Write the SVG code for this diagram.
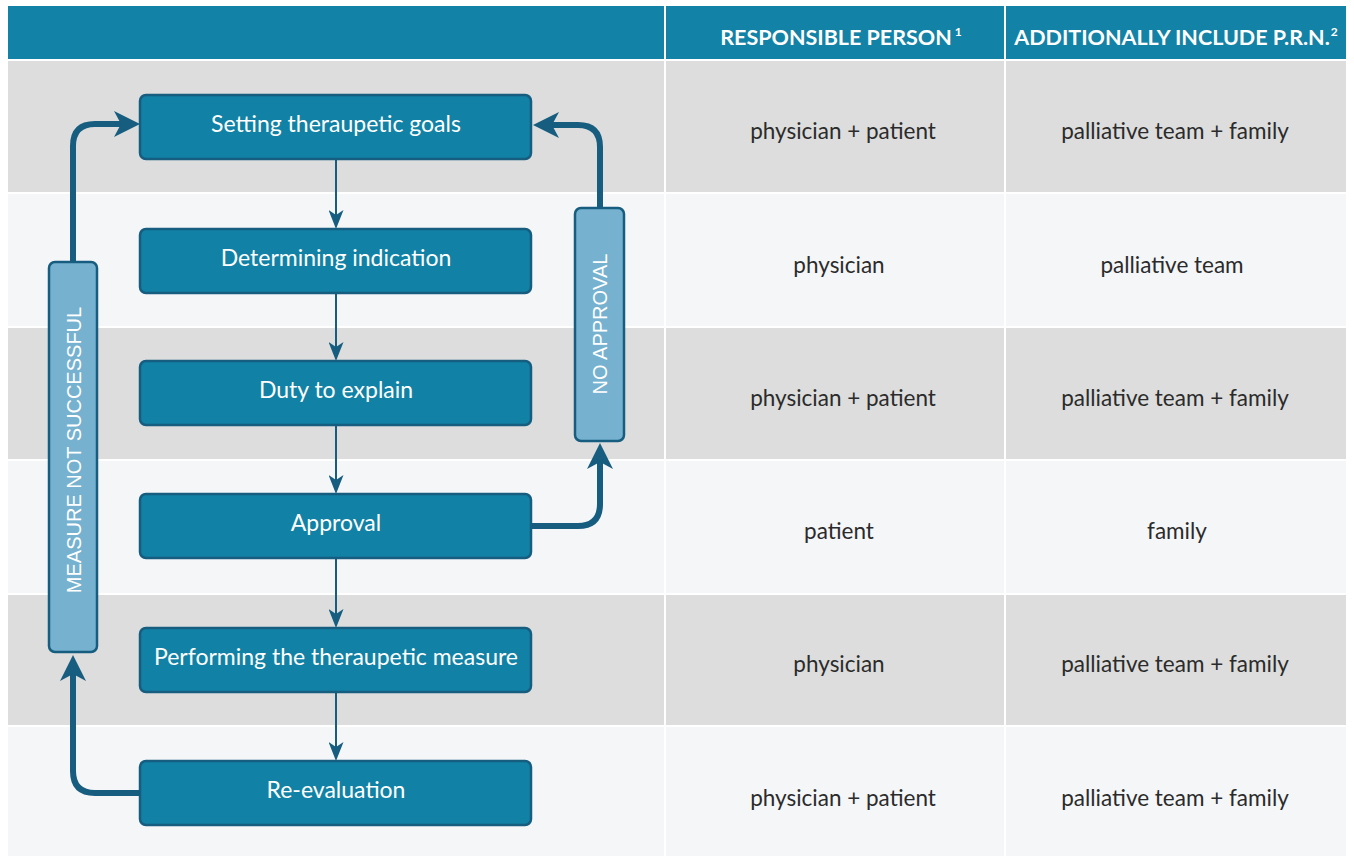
<svg xmlns="http://www.w3.org/2000/svg" width="1354" height="856" viewBox="0 0 1354 856">
<style>
.hdr{fill:#1282a6}
.g{fill:#dcdddc}
.l{fill:#f5f6f8}
.ht{font-family:Lato,"Liberation Sans",sans-serif;font-weight:bold;font-size:21.5px;fill:#ffffff;text-anchor:middle}
.sup{font-size:12px}
.ct{font-family:Lato,"Liberation Sans",sans-serif;font-size:22.5px;fill:#2b2b2b;text-anchor:middle}
.box{fill:#1182a5;stroke:#165d80;stroke-width:2.5}
.bt{font-family:Lato,"Liberation Sans",sans-serif;font-size:23px;fill:#ffffff;text-anchor:middle}
.side{fill:#76b2cf;stroke:#165d80;stroke-width:2.5}
.st{font-family:"Liberation Sans",Arial,sans-serif;font-size:20px;fill:#ffffff;text-anchor:middle}
.thin{fill:none;stroke:#165d80;stroke-width:2;marker-end:url(#ah)}
.thick{fill:none;stroke:#165d80;stroke-width:6;marker-end:url(#ahb)}
</style>
<defs>
<marker id="ah" viewBox="0 0 19 15" refX="5" refY="7.5" markerWidth="19" markerHeight="15" markerUnits="userSpaceOnUse" orient="auto"><path d="M0,0 L19,7.5 L0,15 L5,7.5 z" fill="#165d80"/></marker>
<marker id="ahb" viewBox="0 0 26 26" refX="7" refY="13" markerWidth="26" markerHeight="26" markerUnits="userSpaceOnUse" orient="auto"><path d="M0,0 L26,13 L0,26 L7,13 z" fill="#165d80"/></marker>
</defs>
<rect width="1354" height="856" fill="#ffffff"/>
<g id="table">
<rect class="hdr" x="8" y="6" width="656" height="53"/>
<rect class="hdr" x="666" y="6" width="338" height="53"/>
<rect class="hdr" x="1006" y="6" width="340" height="53"/>
<text class="ht" x="841" y="45">RESPONSIBLE PERSON<tspan class="sup" dx="3" dy="-9">1</tspan></text>
<text class="ht" x="1176" y="45">ADDITIONALLY INCLUDE P.R.N.<tspan class="sup" dx="1" dy="-9">2</tspan></text>
<rect class="g" x="8" y="61" width="656" height="131"/><rect class="g" x="666" y="61" width="338" height="131"/><rect class="g" x="1006" y="61" width="340" height="131"/>
<rect class="l" x="8" y="194" width="656" height="132"/><rect class="l" x="666" y="194" width="338" height="132"/><rect class="l" x="1006" y="194" width="340" height="132"/>
<rect class="g" x="8" y="328" width="656" height="131"/><rect class="g" x="666" y="328" width="338" height="131"/><rect class="g" x="1006" y="328" width="340" height="131"/>
<rect class="l" x="8" y="461" width="656" height="132"/><rect class="l" x="666" y="461" width="338" height="132"/><rect class="l" x="1006" y="461" width="340" height="132"/>
<rect class="g" x="8" y="595" width="656" height="130"/><rect class="g" x="666" y="595" width="338" height="130"/><rect class="g" x="1006" y="595" width="340" height="130"/>
<rect class="l" x="8" y="727" width="656" height="129"/><rect class="l" x="666" y="727" width="338" height="129"/><rect class="l" x="1006" y="727" width="340" height="129"/>
<text class="ct" x="843" y="139">physician + patient</text>
<text class="ct" x="1175" y="139">palliative team + family</text>
<text class="ct" x="839" y="273">physician</text>
<text class="ct" x="1172" y="273">palliative team</text>
<text class="ct" x="843" y="406">physician + patient</text>
<text class="ct" x="1175" y="406">palliative team + family</text>
<text class="ct" x="839" y="539">patient</text>
<text class="ct" x="1177" y="539">family</text>
<text class="ct" x="839" y="672">physician</text>
<text class="ct" x="1175" y="672">palliative team + family</text>
<text class="ct" x="843" y="806">physician + patient</text>
<text class="ct" x="1175" y="806">palliative team + family</text>
</g>
<g id="connectors">
<path class="thin" d="M336,159 V215"/>
<path class="thin" d="M336,293 V347"/>
<path class="thin" d="M336,425 V480"/>
<path class="thin" d="M336,558 V614"/>
<path class="thin" d="M336,692 V747"/>
<path class="thick" d="M73,262 V146 Q73,124 95,124 H121"/>
<path class="thick" d="M600,208 V147 Q600,125 578,125 H552"/>
<path class="thick" d="M531,526 H578 Q600,526 600,504 V462"/>
<path class="thick" d="M140,793 H95 Q73,793 73,771 V674"/>
</g>
<g id="n1"><rect class="box" x="140" y="95" width="391" height="64" rx="6"/><text class="bt" x="336" y="132">Setting theraupetic goals</text></g>
<g id="n2"><rect class="box" x="140" y="229" width="391" height="64" rx="6"/><text class="bt" x="336" y="266">Determining indication</text></g>
<g id="n3"><rect class="box" x="140" y="361" width="391" height="64" rx="6"/><text class="bt" x="336" y="398">Duty to explain</text></g>
<g id="n4"><rect class="box" x="140" y="494" width="391" height="64" rx="6"/><text class="bt" x="336" y="531">Approval</text></g>
<g id="n5"><rect class="box" x="140" y="628" width="391" height="64" rx="6"/><text class="bt" x="336" y="665">Performing the theraupetic measure</text></g>
<g id="n6"><rect class="box" x="140" y="761" width="391" height="64" rx="6"/><text class="bt" x="336" y="798">Re-evaluation</text></g>
<g id="s1"><rect class="side" x="49" y="262" width="48" height="390" rx="6"/><text class="st" transform="translate(81,450) rotate(-90)">MEASURE NOT SUCCESSFUL</text></g>
<g id="s2"><rect class="side" x="575" y="208" width="49" height="233" rx="6"/><text class="st" transform="translate(607,324) rotate(-90)">NO APPROVAL</text></g>
</svg>
